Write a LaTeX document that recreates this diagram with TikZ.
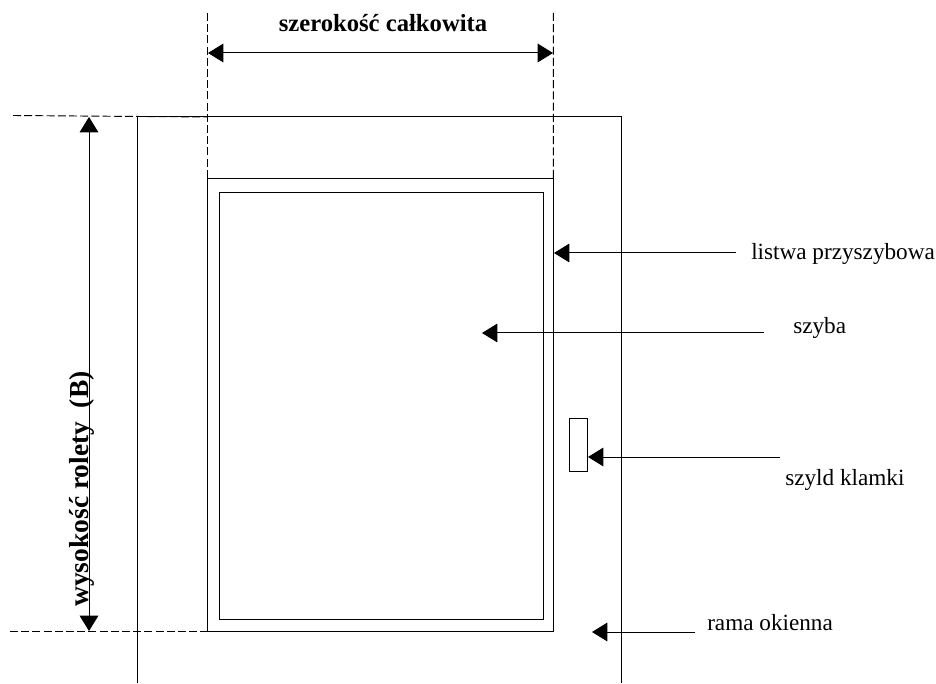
\documentclass[tikz,border=0pt]{standalone}
\usepackage{fontspec}
\setmainfont{Liberation Serif}
\usetikzlibrary{arrows.meta}
\tikzset{
  line/.style={draw=black,line width=0.75pt},
  guide/.style={draw=black,line width=0.7pt,dash pattern=on 6pt off 2.4pt},
  pointer/.style={line,-{Triangle[length=11.5pt,width=14pt]}},
  dimension/.style={line,{Triangle[length=11.5pt,width=14pt]}-{Triangle[length=11.5pt,width=14pt]}},
  panel/.style={line,inner sep=0pt,outer sep=0pt,anchor=north west},
  label/.style={inner sep=0pt,anchor=base west,font=\fontsize{17.4pt}{20pt}\selectfont},
  boldlabel/.style={inner sep=0pt,anchor=base,font=\fontsize{18.5pt}{20pt}\selectfont\bfseries}
}
\begin{document}
\begin{tikzpicture}[x=0.75pt,y=-0.75pt]
\useasboundingbox (0,0) rectangle (936,684);
% frame
\coordinate (fbl) at (137.3,683);
\coordinate (ftl) at (137.3,117);
\coordinate (ftr) at (621.4,117);
\coordinate (fbr) at (621.4,683);
\draw[line] (fbl) -- (ftl) -- (ftr) -- (fbr);
% bead and pane
\node[panel,minimum width=259.4pt,minimum height=339pt] (bead) at (207.5,179) {};
\node[panel,minimum width=243pt,minimum height=319.5pt] (pane) at (219.5,193) {};
% handle plate
\node[panel,minimum width=13.5pt,minimum height=39pt] (plate) at (569.5,419) {};
% guides
\coordinate (gl) at (207.5,13);
\coordinate (gr) at (553.3,13);
\coordinate (gt) at (13,115.5);
\coordinate (gte) at (207.5,117);
\coordinate (gb) at (10,631);
\draw[guide] (gl) -- (bead.north west);
\draw[guide] (gr) -- (bead.north east);
\draw[guide] (gt) -- (gte);
\draw[guide] (gb) -- (bead.south west);
% dimensions
\coordinate (wl) at (208,53);
\coordinate (wr) at (553,53);
\coordinate (ht) at (89,117);
\coordinate (hb) at (89,631);
\draw[dimension] (wl) -- (wr);
\draw[dimension] (ht) -- (hb);
\node[boldlabel] (wlabel) at (383,32) {szerokość całkowita};
\node[boldlabel,rotate=90,font=\fontsize{20.6pt}{24pt}\selectfont\bfseries] (hlabel) at (88,489) {wysokość rolety\ \ (B)};
% labels
\node[label] (l1) at (751,260) {listwa przyszybowa};
\node[label] (l2) at (793,334) {szyba};
\node[label] (l3) at (785,485) {szyld klamki};
\node[label] (l4) at (707,630) {rama okienna};
% pointers
\coordinate (p1s) at (736,253); \coordinate (p1e) at (554,253);
\coordinate (p2s) at (764,333); \coordinate (p2e) at (482,333);
\coordinate (p3s) at (780,457); \coordinate (p3e) at (588,457);
\coordinate (p4s) at (695,632); \coordinate (p4e) at (592,632);
\draw[pointer] (p1s) -- (p1e);
\draw[pointer] (p2s) -- (p2e);
\draw[pointer] (p3s) -- (p3e);
\draw[pointer] (p4s) -- (p4e);
\end{tikzpicture}
\end{document}
